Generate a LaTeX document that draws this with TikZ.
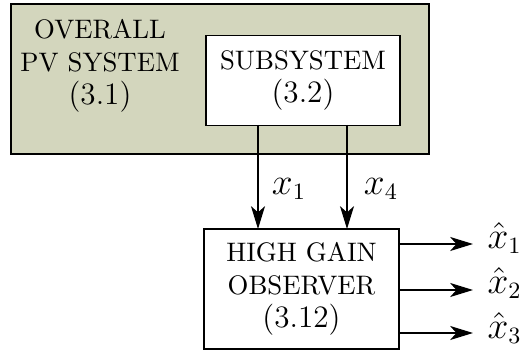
\documentclass[tikz,border=0pt]{standalone}
\usetikzlibrary{arrows.meta}
\definecolor{olivebg}{RGB}{211,214,189}
\newcommand{\eqn}[1]{{\fontsize{12}{12.7}\selectfont #1}}
\begin{document}
\begin{tikzpicture}[x=0.385pt,y=-0.385pt,
  box/.style={draw,line width=0.69pt,rectangle,inner sep=0pt,align=center,font=\fontsize{10.3}{12.7}\selectfont},
  lbl/.style={inner sep=0pt,font=\fontsize{10.3}{12.7}\selectfont},
  mlbl/.style={inner sep=0pt,font=\fontsize{13.5}{16}\selectfont},
  arr/.style={line width=0.69pt,-{Stealth[length=8.8pt,width=5.4pt,inset=2.4pt]}}]
\useasboundingbox (0,0) rectangle (523,352);
\node[box,fill=olivebg,minimum width=160.9pt,minimum height=57.7pt] (outer) at (220,79) {};
\node[lbl,align=center] (outertext) at (100,66) {OVERALL\\PV SYSTEM\\\eqn{(3.1)}};
\node[box,fill=white,minimum width=74.7pt,minimum height=34.6pt] (sub) at (303,80.5) {SUBSYSTEM\\\eqn{(3.2)}};
\node[box,minimum width=75pt,minimum height=46.2pt] (hgo) at (301.5,289) {HIGH GAIN\\OBSERVER\\\eqn{(3.12)}};
\coordinate (s1) at (258,125);
\coordinate (s4) at (347,125);
\coordinate (h1) at (258,229);
\coordinate (h4) at (347,229);
\draw[arr] (s1) -- (h1);
\draw[arr] (s4) -- (h4);
\node[mlbl] (lx1) at (289,189) {$x_1$};
\node[mlbl] (lx4) at (381,189) {$x_4$};
\node[mlbl,anchor=west] (o1) at (487,238) {$\hat{x}_1$};
\node[mlbl,anchor=west] (o2) at (487,283) {$\hat{x}_2$};
\node[mlbl,anchor=west] (o3) at (487,328) {$\hat{x}_3$};
\coordinate (t1) at (473,244);
\coordinate (t2) at (473,290);
\coordinate (t3) at (473,333);
\draw[arr] (hgo.east |- t1) -- (t1);
\draw[arr] (hgo.east |- t2) -- (t2);
\draw[arr] (hgo.east |- t3) -- (t3);
\end{tikzpicture}
\end{document}
